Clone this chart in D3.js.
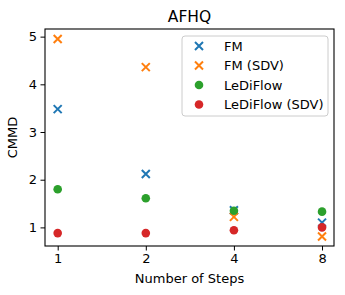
<!DOCTYPE html>
<html>
<head>
<meta charset="utf-8">
<script src="https://cdn.jsdelivr.net/npm/d3@7"></script>
<style>
  body { margin: 0; background: #fff; }
  svg { display: block; font-family: "DejaVu Sans", sans-serif; }
</style>
</head>
<body>
<div id="root"></div>
<script>
// data
const steps = [1, 2, 4, 8];
const seriesNames = ["FM", "FM (SDV)", "LeDiFlow", "LeDiFlow (SDV)"];
const fm = [3.48, 2.12, 1.36, 1.10];
const fmSdv = [4.95, 4.36, 1.22, 0.81];
const lediflow = [1.80, 1.61, 1.35, 1.33];
const lediflowSdv = [0.88, 0.88, 0.94, 1.00];
const yTicks = [1, 2, 3, 4, 5];

const width = 345;
const height = 295;
const margin = { top: 29, right: 11, bottom: 49, left: 45 };

const series = [
  { name: seriesNames[0], values: fm, color: "#1f77b4", shape: "x" },
  { name: seriesNames[1], values: fmSdv, color: "#ff7f0e", shape: "x" },
  { name: seriesNames[2], values: lediflow, color: "#2ca02c", shape: "o" },
  { name: seriesNames[3], values: lediflowSdv, color: "#d62728", shape: "o" }
];

const svg = d3.select("#root")
  .append("svg")
  .attr("width", width)
  .attr("height", height);

const x = d3.scaleLog().base(2)
  .domain([0.905, 8.79])
  .range([margin.left, width - margin.right]);

const y = d3.scaleLinear()
  .domain([0.61, 5.16])
  .range([height - margin.bottom, margin.top]);

// Axes
const xAxis = d3.axisBottom(x)
  .tickValues(steps)
  .tickFormat(d3.format("d"))
  .tickSize(4.5)
  .tickPadding(3.5);

const yAxis = d3.axisLeft(y)
  .tickValues(yTicks)
  .tickFormat(d3.format("d"))
  .tickSize(4.5)
  .tickPadding(3.5);

const gx = svg.append("g")
  .attr("transform", `translate(0,${height - margin.bottom})`)
  .call(xAxis);

const gy = svg.append("g")
  .attr("transform", `translate(${margin.left},0)`)
  .call(yAxis);

[gx, gy].forEach((g) => {
  g.select(".domain").remove();
  g.selectAll("line").attr("stroke", "#000").attr("stroke-width", 1);
  g.selectAll("text")
    .attr("fill", "#000")
    .attr("font-size", "13px")
    .attr("font-family", "DejaVu Sans");
});

// Marks
const plot = svg.append("g");
series.forEach((s) => {
  const g = plot.append("g");
  s.values.forEach((v, i) => {
    drawMarker(g, x(steps[i]), y(v), s);
  });
});

function drawMarker(g, cx, cy, s) {
  if (s.shape === "o") {
    g.append("circle")
      .attr("cx", cx)
      .attr("cy", cy)
      .attr("r", 4.3)
      .attr("fill", s.color);
  } else {
    const h = 4;
    g.append("path")
      .attr("d", `M${cx - h},${cy - h}L${cx + h},${cy + h}M${cx - h},${cy + h}L${cx + h},${cy - h}`)
      .attr("stroke", s.color)
      .attr("stroke-width", 2)
      .attr("fill", "none");
  }
}

// Frame
svg.append("rect")
  .attr("x", margin.left)
  .attr("y", margin.top)
  .attr("width", width - margin.left - margin.right)
  .attr("height", height - margin.top - margin.bottom)
  .attr("fill", "none")
  .attr("stroke", "#000")
  .attr("stroke-width", 1.1);

// Title and labels
svg.append("text")
  .attr("x", (margin.left + width - margin.right) / 2)
  .attr("y", 22)
  .attr("text-anchor", "middle")
  .attr("font-size", "15.5px")
  .text("AFHQ");

svg.append("text")
  .attr("x", (margin.left + width - margin.right) / 2)
  .attr("y", 283)
  .attr("text-anchor", "middle")
  .attr("font-size", "13px")
  .text("Number of Steps");

svg.append("text")
  .attr("transform", `translate(17,${(margin.top + height - margin.bottom) / 2}) rotate(-90)`)
  .attr("text-anchor", "middle")
  .attr("font-size", "13px")
  .text("CMMD");

// Legend
const legend = svg.append("g").attr("transform", "translate(182,36)");
legend.append("rect")
  .attr("width", 146)
  .attr("height", 80)
  .attr("rx", 3)
  .attr("fill", "#fff")
  .attr("fill-opacity", 0.8)
  .attr("stroke", "#ccc")
  .attr("stroke-width", 1);

const legendY = d3.scalePoint()
  .domain(seriesNames)
  .range([10, 68.5]);

series.forEach((s) => {
  const ly = legendY(s.name);
  drawMarker(legend, 17, ly, s);
  legend.append("text")
    .attr("x", 42)
    .attr("y", ly)
    .attr("dy", "0.35em")
    .attr("font-size", "13px")
    .text(s.name);
});
</script>
</body>
</html>
